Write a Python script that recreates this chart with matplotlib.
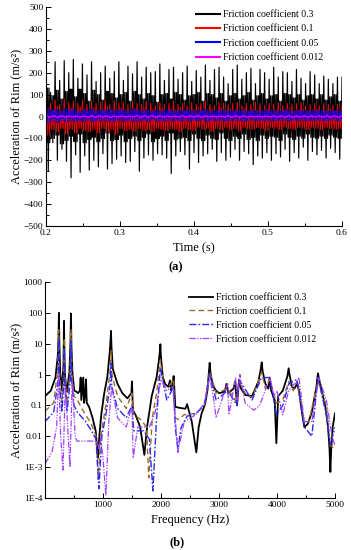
import matplotlib
matplotlib.use("Agg")
import matplotlib.pyplot as plt
import numpy as np
from matplotlib.ticker import MultipleLocator, FixedLocator, NullLocator

plt.rcParams['font.family'] = ['Liberation Serif', 'DejaVu Serif']

# ---------------- (a) time history data: per-cycle extremes (m/s^2) ----------------
t_start, t_end = 0.2, 0.6
black_hi = [150, 110, 250, 165, 255, 200, 260, 175, 240, 190,
            250, 160, 200, 230, 175, 205, 250, 165, 230, 195,
            250, 180, 225, 200, 205, 240, 165, 215, 225, 170,
            200, 230, 160, 210, 180, 235, 165, 215, 225, 180,
            150, 215, 235, 170, 200, 220, 150, 215, 200, 170,
            225, 180, 205, 200, 160, 215, 175, 150, 205, 190,
            150, 185, 170, 150, 180]
black_lo = [-250, -120, -200, -150, -205, -280, -175, -255, -180, -245,
            -200, -230, -170, -240, -215, -195, -180, -210, -205, -160,
            -250, -190, -175, -200, -170, -175, -190, -260, -180, -160,
            -175, -240, -165, -210, -180, -170, -150, -205, -165, -200,
            -185, -150, -200, -160, -170, -220, -180, -190, -165, -200,
            -170, -185, -150, -205, -165, -190, -140, -200, -160, -175,
            -155, -190, -145, -165, -195]
black_mid_hi = [130, 95, 120, 80, 115, 125, 90, 125, 105, 70,
                120, 100, 75, 115, 105, 85, 100, 110, 70, 115,
                100, 80, 105, 95, 65, 100, 105, 80, 110, 100,
                75, 95, 100, 110, 70, 105, 100, 85, 105, 70,
                95, 105, 80, 95, 110, 75, 95, 105, 80, 95,
                100, 70, 105, 100, 85, 100, 75, 95, 100, 80,
                100, 75, 90, 100, 70]
black_mid_lo = [-120, -100, -85, -125, -110, -90, -115, -80, -120, -105,
                -95, -115, -100, -75, -110, -105, -85, -115, -100, -90,
                -110, -95, -80, -115, -100, -90, -110, -75, -105, -100,
                -95, -110, -80, -100, -110, -85, -100, -105, -75, -100,
                -110, -90, -100, -80, -105, -95, -110, -85, -100, -90,
                -95, -110, -80, -95, -105, -90, -100, -80, -95, -100,
                -90, -100, -85, -95, -100]
red_hi = [85, 60, 75, 55, 80, 65, 70, 60, 75, 55,
          70, 60, 65, 75, 55, 70, 60, 65, 55, 70,
          60, 55, 70, 60, 50, 65, 55, 60, 70, 55,
          60, 50, 65, 55, 60, 70, 55, 50, 65, 60,
          55, 60, 65, 50, 60, 55, 65, 60, 50, 60,
          55, 65, 50, 60, 55, 60, 65, 50, 55, 60,
          50, 60, 55, 50, 55]
red_lo = [-85, -60, -70, -55, -80, -60, -75, -55, -65, -70,
          -60, -75, -55, -70, -60, -80, -55, -65, -60, -70,
          -55, -65, -60, -70, -55, -60, -65, -55, -60, -70,
          -55, -60, -65, -50, -60, -55, -70, -55, -60, -50,
          -60, -55, -65, -50, -55, -60, -50, -55, -65, -50,
          -55, -60, -50, -55, -60, -50, -55, -60, -50, -55,
          -60, -50, -55, -60, -55]
red_mid = [40, 30, 45, 25, 35, 40, 30, 45, 35, 25,
           40, 30, 35, 45, 25, 35, 40, 30, 25, 35,
           30, 40, 25, 35, 30, 40, 25, 35, 30, 40,
           25, 35, 30, 40, 25, 30, 35, 25, 40, 30,
           35, 25, 30, 40, 25, 35, 30, 25, 35, 30,
           25, 35, 30, 40, 25, 30, 35, 25, 30, 35,
           25, 30, 35, 25, 30]
blue_hi = [40, 30, 35, 28, 38, 30, 35, 25, 32, 30,
           35, 28, 32, 30, 38, 27, 33, 30, 28, 35,
           30, 28, 33, 25, 30, 28, 32, 30, 27, 30,
           28, 32, 27, 30, 28, 33, 26, 30, 28, 32,
           27, 30, 28, 32, 26, 30, 28, 27, 31, 28,
           30, 27, 29, 32, 26, 30, 28, 29, 27, 30,
           28, 30, 26, 29, 28]
blue_lo = [-30, -22, -28, -20, -25, -22, -27, -20, -24, -22,
           -25, -20, -23, -21, -26, -20, -24, -22, -20, -25,
           -22, -20, -24, -19, -22, -20, -23, -21, -19, -22,
           -20, -23, -19, -21, -20, -24, -18, -22, -20, -23,
           -19, -21, -20, -23, -18, -21, -20, -19, -22, -20,
           -21, -19, -20, -23, -18, -21, -20, -21, -19, -21,
           -20, -21, -18, -20, -20]
magenta_hi = [4, 3, 4, 3, 4, 3, 4, 3, 4, 3, 4, 3, 4]
magenta_lo = [-4, -3, -4, -3, -4, -3, -4, -3, -4, -3, -4, -3, -4]

# ---------------- (b) spectrum data ----------------
black_f = [0, 100, 180, 220, 232, 240, 248, 262, 293, 318, 328, 335, 345, 365, 379,
           420, 438, 448, 456, 475, 506, 540, 570, 600, 615, 626, 640, 660, 672, 690,
           707, 720, 760, 816, 874, 914, 940, 970, 1020, 1075, 1115, 1132, 1138, 1146,
           1170, 1250, 1333, 1420, 1490, 1500, 1515, 1560, 1640, 1713, 1760, 1840,
           1925, 1965, 1982, 1989, 1998, 2030, 2070, 2126, 2155, 2172, 2200, 2218,
           2247, 2300, 2380, 2420, 2450, 2530, 2609, 2650, 2700, 2760, 2800, 2826,
           2839, 2852, 2890, 2950, 3000, 3100, 3130, 3160, 3250, 3280, 3310, 3345,
           3380, 3450, 3569, 3680, 3720, 3736, 3752, 3800, 3850, 3874, 3900, 3960,
           3989, 4020, 4100, 4180, 4201, 4220, 4259, 4300, 4345, 4380, 4420, 4471,
           4530, 4600, 4680, 4700, 4707, 4720, 4780, 4840, 4880, 4905, 4920, 4935,
           4960, 5000]
black_v = [0.2, 0.3, 0.8, 4, 15, 100, 10, 1.2, 0.3, 2, 55, 5, 1, 0.35, 0.28,
           1.2, 10, 95, 8, 1, 0.3, 0.28, 0.25, 0.3, 0.8, 0.15, 0.3, 0.8, 0.12, 0.2,
           0.7, 0.12, 0.09, 0.042, 0.015, 0.002, 0.012, 0.05, 0.24, 0.84, 5, 15, 26, 8,
           1.5, 0.5, 0.25, 0.17, 0.25, 0.6, 0.07, 0.05, 0.02, 0.0025, 0.02, 0.2,
           0.84, 3, 6, 9.6, 4, 0.84, 0.5, 0.4, 0.65, 0.31, 0.45, 0.9,
           0.09, 0.085, 0.08, 0.078, 0.11, 0.03, 0.003, 0.02, 0.055, 0.11, 0.3, 1.2,
           2.4, 1.2, 0.45, 0.3, 0.25, 0.28, 0.5, 0.25, 0.35, 0.6, 0.1, 0.65,
           0.35, 0.22, 0.2, 0.6, 1.5, 2.5, 1.3, 0.5, 0.35, 0.8, 0.3, 0.15,
           0.006, 0.2, 0.3, 0.9, 1.6, 0.9, 0.4, 0.35, 0.5, 0.3, 0.08, 0.02,
           0.025, 0.06, 0.4, 0.9, 1.1, 0.8, 0.25, 0.08, 0.02, 0.004, 0.0007, 0.004,
           0.02, 0.055]

brown_f = [0, 150, 220, 236, 250, 293, 320, 333, 345, 379, 430, 448, 465, 500, 560,
           650, 700, 800, 880, 920, 960, 1050, 1120, 1138, 1155, 1250, 1400, 1500, 1530,
           1650, 1750, 1790, 1850, 1930, 1989, 2050, 2150, 2218, 2240, 2300, 2400,
           2600, 2750, 2839, 2950, 3150, 3310, 3345, 3450, 3569, 3736, 3800, 3874,
           3989, 4100, 4201, 4280, 4345, 4471, 4550, 4707, 4850, 4920, 5000]
brown_v = [0.065, 0.12, 1.5, 28, 1.2, 0.12, 1.0, 15, 0.8, 0.12, 1.0, 28, 1.0, 0.2, 0.15,
           0.07, 0.05, 0.025, 0.01, 0.0004, 0.01, 0.1, 1.2, 6, 1.0, 0.2, 0.08, 0.25, 0.05,
           0.035, 0.02, 0.00045, 0.04, 0.3, 3, 0.4, 0.45, 0.7, 0.04, 0.035, 0.05,
           0.055, 0.1, 1.3, 0.25, 0.35, 0.12, 0.6, 0.25, 0.18, 1.2, 0.35, 0.7,
           0.12, 0.15, 0.6, 0.3, 0.6, 0.03, 0.03, 0.6, 0.1, 0.005, 0.004]

blue_f = [0, 150, 225, 236, 248, 293, 322, 333, 344, 379, 435, 448, 460, 500, 560,
          700, 800, 880, 930, 980, 1050, 1125, 1138, 1152, 1250, 1400, 1500, 1530,
          1700, 1800, 1860, 1920, 1989, 2100, 2218, 2245, 2290, 2350, 2450, 2600,
          2750, 2839, 2950, 3150, 3310, 3345, 3569, 3736, 3874, 3989, 4100, 4201,
          4345, 4471, 4600, 4707, 4850, 4920, 5000]
blue_v = [0.03, 0.06, 0.6, 15, 0.5, 0.06, 0.5, 7, 0.4, 0.06, 0.6, 12, 0.6, 0.1, 0.06,
          0.03, 0.015, 0.008, 0.0002, 0.01, 0.05, 0.5, 2.3, 0.4, 0.08, 0.04, 0.1, 0.015,
          0.015, 0.008, 0.00017, 0.03, 1.6, 0.15, 0.4, 0.02, 0.004, 0.02, 0.045, 0.055,
          0.1, 1.1, 0.15, 0.3, 0.1, 0.7, 0.15, 0.8, 0.8, 0.05, 0.1, 0.5,
          0.7, 0.02, 0.01, 0.8, 0.05, 0.005, 0.02]

violet_f = [0, 120, 200, 236, 270, 310, 350, 400, 430, 470, 520, 550, 700, 900, 930,
            960, 1000, 1050, 1100, 1150, 1250, 1400, 1500, 1520, 1600, 1800, 1900,
            2000, 2100, 2200, 2250, 2290, 2400, 2600, 2750, 2840, 2900, 2950, 3100,
            3150, 3170, 3290, 3310, 3360, 3450, 3600, 3700, 3880, 3950, 4000, 4100,
            4200, 4340, 4380, 4470, 4600, 4720, 4850, 4950, 5000]
violet_v = [0.0013, 0.003, 0.02, 1.0, 0.01, 0.0008, 0.5, 0.01, 0.001, 0.7, 0.01, 0.007,
            0.007, 0.007, 0.004, 0.009, 0.002, 0.00012, 0.03, 0.4, 0.04, 0.02, 0.1, 0.002,
            0.02, 0.02, 0.06, 0.7, 0.3, 0.4, 0.03, 0.003, 0.03, 0.05, 0.12, 0.8, 0.2,
            0.04, 0.3, 0.5, 0.05, 0.8, 0.15, 1.0, 0.12, 0.07, 0.1, 0.8, 0.2, 0.3,
            0.05, 0.3, 0.6, 0.8, 0.03, 0.03, 0.8, 0.15, 0.01, 0.005]

labels = ['Friction coefficient 0.3', 'Friction coefficient 0.1',
          'Friction coefficient 0.05', 'Friction coefficient 0.012']


def trace(*levels):
    """Interleave per-cycle level lists into one time trace over [t_start, t_end]."""
    n = len(levels[0])
    m = len(levels)
    dt = (t_end - t_start) / n
    ts, ys = [], []
    for k in range(n):
        for j, lev in enumerate(levels):
            ts.append(t_start + dt * (k + j / m))
            ys.append(lev[k])
    ts.append(t_end)
    ys.append(levels[0][-1])
    return ts, ys


fig = plt.figure(figsize=(3.51, 5.50), dpi=100)

# ---------------- (a) ----------------
ax1 = fig.add_axes([46 / 351, 1 - 226 / 550, (342 - 46) / 351, (226 - 7) / 550])
t, y = trace(black_hi, black_mid_lo, black_mid_hi, black_lo, black_mid_hi, black_mid_lo)
ax1.plot(t, y, color='black', lw=0.85, label=labels[0])
t, y = trace(red_hi, red_lo, red_mid, red_lo)
ax1.plot(t, y, color='#ff0000', lw=0.7, label=labels[1])
t, y = trace(blue_hi, blue_lo, blue_hi, blue_lo)
ax1.plot(t, y, color='#0000ff', lw=0.65, label=labels[2])
t, y = trace(magenta_hi, magenta_lo, magenta_hi, magenta_lo, magenta_hi, magenta_lo)
ax1.plot(t, y, color='#ff00ff', lw=0.8, label=labels[3])

ax1.set_xlim(0.2, 0.6)
ax1.set_ylim(-500, 500)
ax1.xaxis.set_major_locator(MultipleLocator(0.1))
ax1.xaxis.set_minor_locator(MultipleLocator(0.05))
ax1.yaxis.set_major_locator(MultipleLocator(100))
ax1.yaxis.set_minor_locator(MultipleLocator(50))
ax1.set_xticks([0.2, 0.3, 0.4, 0.5, 0.6])
ax1.set_xticklabels(['0.2', '0.3', '0.4', '0.5', '0.6'])
ax1.set_xlabel('Time (s)', fontsize=9, labelpad=4)
ax1.set_ylabel('Acceleration of Rim (m/s²)', fontsize=9, labelpad=1)
leg1 = ax1.legend(loc='upper left', bbox_to_anchor=(196 / 351, 1 - 10 / 550),
                  bbox_transform=fig.transFigure, frameon=False, fontsize=7,
                  handlelength=2.5, handletextpad=0.3, labelspacing=0.55,
                  borderpad=0, borderaxespad=0)
for h in leg1.get_lines():
    h.set_linewidth(1.5)

# ---------------- (b) ----------------
ax2 = fig.add_axes([45 / 351, 1 - 498 / 550, (335 - 45) / 351, (498 - 282) / 550])
ax2.plot(black_f, black_v, color='black', lw=1.3, label=labels[0])
ax2.plot(brown_f, brown_v, color='#9c6a2c', lw=1.0, ls=(0, (4, 2.5)), label=labels[1])
ax2.plot(blue_f, blue_v, color='#2b2bf0', lw=1.0, ls=(0, (5, 1.5, 1.2, 1.5)), label=labels[2])
ax2.plot(violet_f, violet_v, color='#a040ff', lw=0.9,
         ls=(0, (5, 1.2, 1, 1.2, 1, 1.2)), label=labels[3])
ax2.set_yscale('log')
ax2.set_xlim(0, 5000)
ax2.set_ylim(1e-4, 1e3)
ax2.xaxis.set_major_locator(FixedLocator([1000, 2000, 3000, 4000, 5000]))
ax2.xaxis.set_minor_locator(FixedLocator([0, 500, 1500, 2500, 3500, 4500]))
decades = [1e-4, 1e-3, 1e-2, 1e-1, 1, 10, 100, 1000]
ax2.yaxis.set_major_locator(FixedLocator(decades))
ax2.set_yticklabels(['1E-4', '1E-3', '0.01', '0.1', '1', '10', '100', '1000'])
ax2.yaxis.set_minor_locator(NullLocator())
ax2.set_xlabel('Frequency (Hz)', fontsize=9, labelpad=4)
ax2.set_ylabel('Acceleration of Rim (m/s²)', fontsize=9, labelpad=1)
ax2.legend(loc='upper left', bbox_to_anchor=(189 / 351, 1 - 293 / 550),
           bbox_transform=fig.transFigure, frameon=False, fontsize=7,
           handlelength=2.5, handletextpad=0.3, labelspacing=0.5,
           borderpad=0, borderaxespad=0)

for ax in (ax1, ax2):
    ax.spines['top'].set_visible(False)
    ax.spines['right'].set_visible(False)
    ax.spines['left'].set_linewidth(0.8)
    ax.spines['bottom'].set_linewidth(0.8)
    ax.tick_params(which='both', direction='in', labelsize=6.8, width=0.7, pad=2)
    ax.tick_params(which='major', length=3.5)
    ax.tick_params(which='minor', length=2)

fig.text(176 / 351, 1 - 267 / 550, '(a)', ha='center', va='center', fontsize=9, fontweight='bold')
fig.text(177 / 351, 1 - 542 / 550, '(b)', ha='center', va='center', fontsize=9, fontweight='bold')

fig.savefig('out.png', dpi=100)
